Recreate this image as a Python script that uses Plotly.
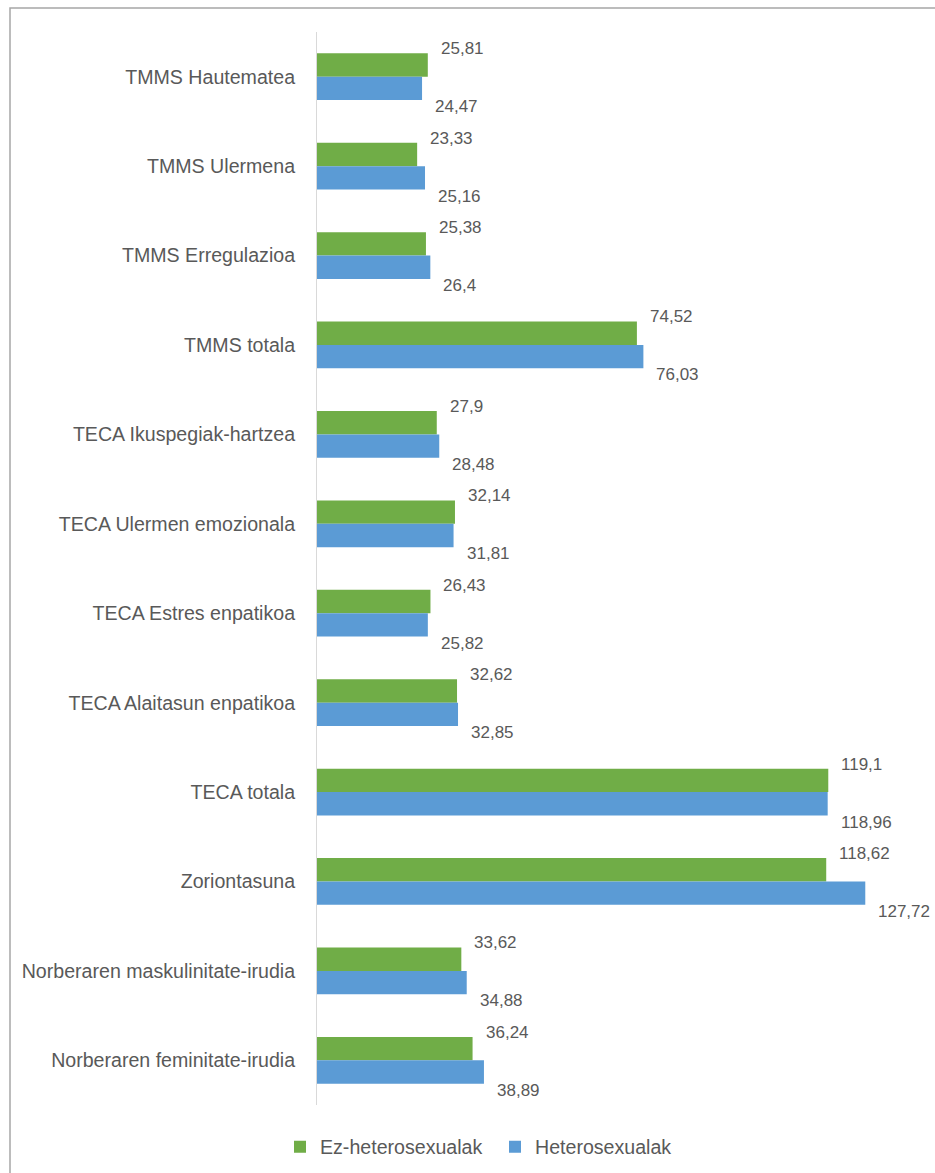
import plotly.graph_objects as go

categories = [
    "TMMS Hautematea",
    "TMMS Ulermena",
    "TMMS Erregulazioa",
    "TMMS totala",
    "TECA Ikuspegiak-hartzea",
    "TECA Ulermen emozionala",
    "TECA Estres enpatikoa",
    "TECA Alaitasun enpatikoa",
    "TECA totala",
    "Zoriontasuna",
    "Norberaren maskulinitate-irudia",
    "Norberaren feminitate-irudia",
]
ez_hetero = [25.81, 23.33, 25.38, 74.52, 27.9, 32.14, 26.43, 32.62, 119.1, 118.62, 33.62, 36.24]
hetero = [24.47, 25.16, 26.4, 76.03, 28.48, 31.81, 25.82, 32.85, 118.96, 127.72, 34.88, 38.89]
series_names = ["Ez-heterosexualak", "Heterosexualak"]
colors = ["#70AD47", "#5B9BD5"]

FONT = "Liberation Sans, Arial, sans-serif"
TXT = "#595959"


def fmt(v):
    s = ("%.2f" % v).rstrip("0").rstrip(".")
    return s.replace(".", ",")


fig = go.Figure()
for name, vals, col in zip(series_names, [ez_hetero, hetero], colors):
    fig.add_trace(go.Bar(
        y=categories, x=vals, name=name, orientation="h",
        marker=dict(color=col, line=dict(width=0)),
    ))

annotations = []
for vals, ys in [(ez_hetero, 28), (hetero, -30)]:
    for c, v in zip(categories, vals):
        annotations.append(dict(
            x=v, y=c, xref="x", yref="y", text=fmt(v), showarrow=False,
            xanchor="left", yanchor="middle", xshift=11, yshift=ys,
            font=dict(family=FONT, size=17, color=TXT),
        ))

W, H = 935, 1173
L, R, T, B = 317, 17, 32, 68
pw, ph = W - L - R, H - T - B

fig.update_layout(
    width=W, height=H,
    margin=dict(l=L, r=R, t=T, b=B, autoexpand=False),
    paper_bgcolor="white", plot_bgcolor="white",
    barmode="group", bargap=0.478, bargroupgap=0,
    font=dict(family=FONT, size=19.6, color=TXT),
    xaxis=dict(range=[0, 140], showgrid=False, zeroline=False, showline=False,
               showticklabels=False, ticks="", automargin=False),
    yaxis=dict(autorange="reversed", showgrid=False, zeroline=False, showline=True,
               linecolor="#D9D9D9", linewidth=1, ticks="", ticklabelstandoff=17,
               automargin=False,
               tickfont=dict(family=FONT, size=19.6, color=TXT)),
    legend=dict(orientation="h", x=(495 - L) / pw, xanchor="center",
                y=-(1147 - (H - B)) / ph, yanchor="middle",
                entrywidth=170, entrywidthmode="pixels",
                font=dict(family=FONT, size=19.6, color=TXT), traceorder="normal"),
    annotations=annotations,
    shapes=[dict(type="rect", xref="paper", yref="paper",
                 x0=(10 - L) / pw, x1=(950 - L) / pw,
                 y0=-(1190 - (H - B)) / ph, y1=((H - B) - 8) / ph,
                 line=dict(color="#A6A6A6", width=1.5), fillcolor="rgba(0,0,0,0)",
                 layer="below")],
)

fig.write_html("out.html", config={"displayModeBar": False},
               post_script="document.body.style.margin='0px';document.body.style.overflow='hidden';")
